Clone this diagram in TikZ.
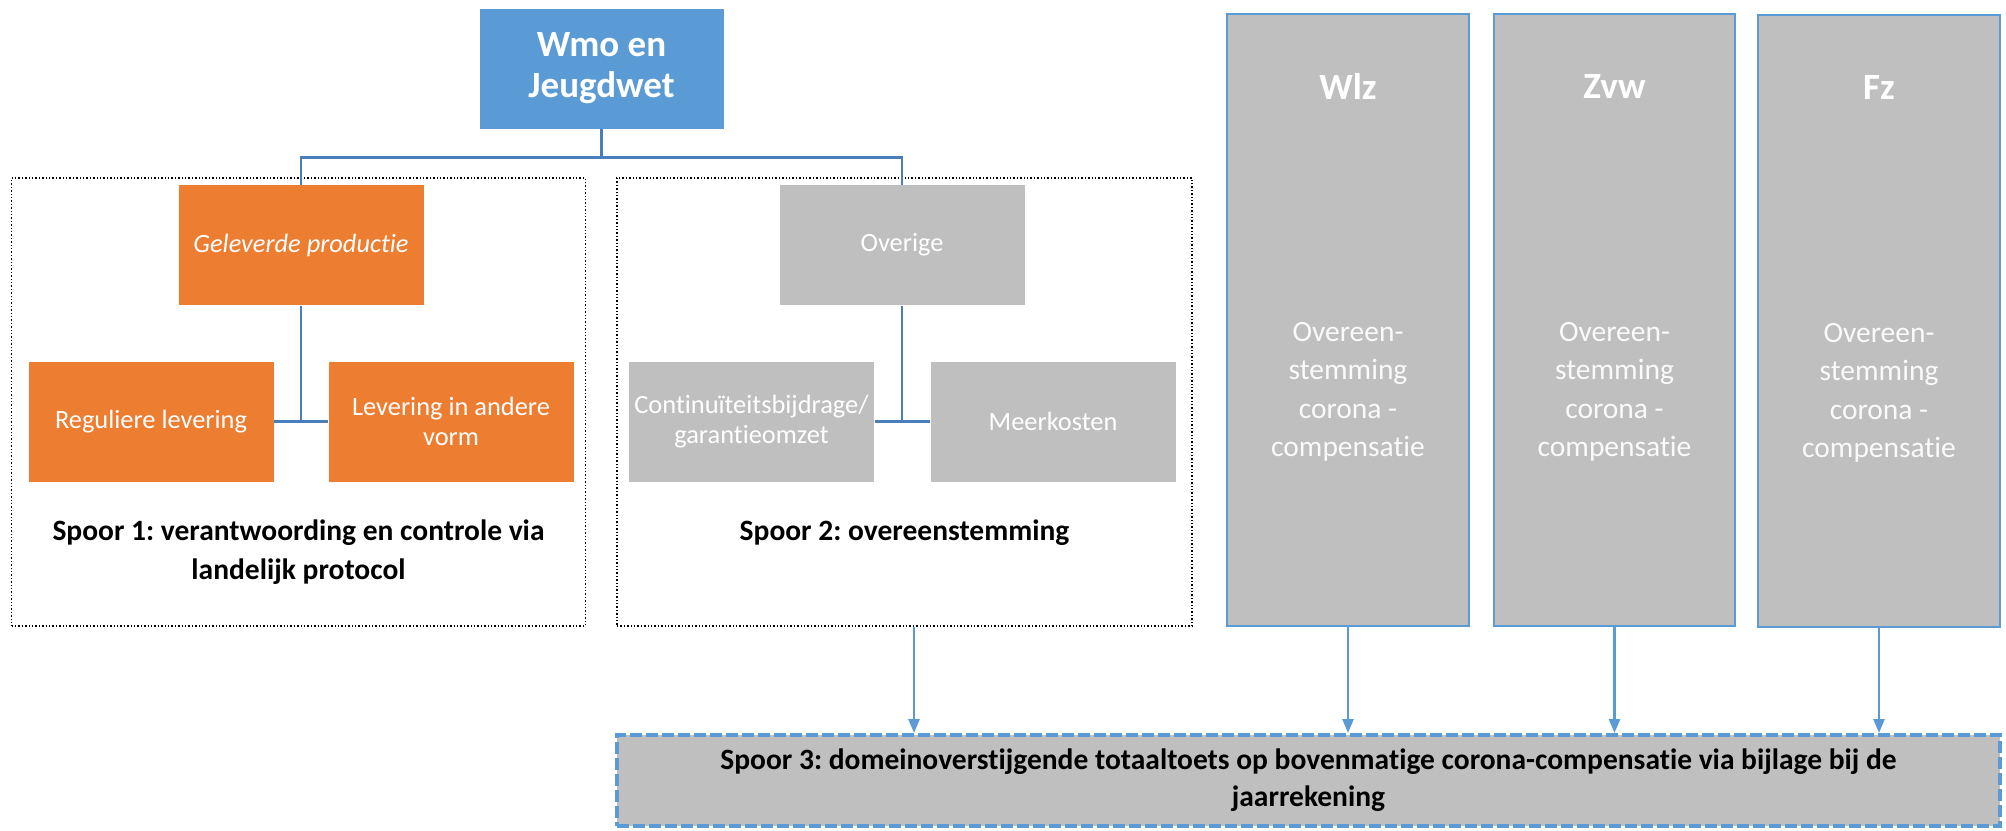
\documentclass[tikz,border=0pt]{standalone}
\usepackage{fontspec}
\setmainfont{Carlito}[RawFeature={-liga,-clig,-calt,-dlig}]
\usetikzlibrary{arrows.meta}
\frenchspacing

\definecolor{wmoblauw}{HTML}{5B9BD5}
\definecolor{lijnblauw}{HTML}{4A7EBB}
\definecolor{oranje}{HTML}{ED7D31}
\definecolor{grijs}{HTML}{BFBFBF}

\tikzset{
  blok/.style={minimum width=123pt, minimum height=60.5pt, inner sep=0pt, outer sep=0pt,
    draw=white, line width=0.4pt, text=white, align=center,
    font=\fontsize{13.2}{15}\selectfont},
  oranjeblok/.style={blok, fill=oranje},
  grijsblok/.style={blok, fill=grijs},
  spoorkader/.style={draw, densely dotted, line width=0.7pt, minimum height=224pt, inner sep=0pt},
  zuil/.style={draw=wmoblauw, line width=1.2pt, fill=grijs, minimum height=306pt, inner sep=0pt},
  kop/.style={text=white, font=\bfseries\fontsize{18.5}{20.5}\selectfont, align=center},
  zuiltekst/.style={text=white!92!grijs, font=\fontsize{14.75}{19.25}\selectfont, align=center},
  spoortekst/.style={font=\bfseries\fontsize{14.75}{19.5}\selectfont, align=center},
  boom/.style={draw=lijnblauw, line width=1.35pt},
  pijl/.style={draw=wmoblauw, line width=1.25pt, -{Triangle[length=7pt,width=5.5pt]}},
}

\begin{document}
\begin{tikzpicture}[x=0.5pt,y=-0.5pt]
\useasboundingbox (0,0) rectangle (2006,830);

% sporen 1 en 2
\node[spoorkader, minimum width=287pt] (sp1) at (298.5,402) {};
\node[spoorkader, minimum width=287.5pt] (sp2) at (904.5,402) {};

\node[kop, fill=wmoblauw, draw=white, minimum width=122.5pt, minimum height=60.5pt, inner sep=0pt] (wmo) at (601.5,68.5) {Wmo en\\Jeugdwet};

\node[oranjeblok, font=\itshape\fontsize{13.2}{15}\selectfont] (gel) at (301,245) {Geleverde productie};
\node[oranjeblok] (reg) at (151,421.5) {Reguliere levering};
\node[oranjeblok] (lev) at (451,421.5) {Levering in andere\\vorm};

\node[grijsblok] (ove) at (902,245) {Overige};
\node[grijsblok] (con) at (751.5,421.5) {Continuïteitsbijdrage/\\garantieomzet};
\node[grijsblok] (mee) at (1053,421.5) {Meerkosten};

\node[spoortekst] (sp1t) at (298.5,552) {Spoor 1: verantwoording en controle via\\landelijk protocol};
\node[spoortekst] (sp2t) at (904.5,533) {Spoor 2: overeenstemming};

\draw[boom] (wmo.south) -- ++(0,28) -| (gel.north);
\draw[boom] (wmo.south) -- ++(0,28) -| (ove.north);
\draw[boom] (gel.south) -- (gel.south |- reg.east);
\draw[boom] (reg.east) -- (lev.west);
\draw[boom] (ove.south) -- (ove.south |- con.east);
\draw[boom] (con.east) -- (mee.west);

% zuilen
\node[zuil, minimum width=121pt] (wlz) at (1348,320) {};
\node[kop] (wlzkop) at (1348,87) {Wlz};
\node[zuiltekst] (wlztekst) at (1348,392) {Overeen-\\stemming\\corona -\\compensatie};

\node[zuil, minimum width=120.5pt] (zvw) at (1614.5,320) {};
\node[kop] (zvwkop) at (1614.5,87) {Zvw};
\node[zuiltekst] (zvwtekst) at (1614.5,392) {Overeen-\\stemming\\corona -\\compensatie};

\node[zuil, minimum width=121pt] (fz) at (1879,321) {};
\node[kop] (fzkop) at (1879,88) {Fz};
\node[zuiltekst] (fztekst) at (1879,393) {Overeen-\\stemming\\corona -\\compensatie};

% spoor 3
\node[draw=wmoblauw, line width=2pt, dash pattern=on 6pt off 2pt, fill=grijs,
  minimum width=691.5pt, minimum height=45.5pt, inner sep=0pt, spoortekst,
  font=\bfseries\fontsize{14.75}{18.5}\selectfont] (sp3) at (1308.5,780.5)
  {Spoor 3: domeinoverstijgende totaaltoets op bovenmatige corona-compensatie via bijlage bij de\\jaarrekening};

\draw[pijl] ([xshift=4.75pt]sp2.south) -- ([xshift=4.75pt]sp2.south |- sp3.north);
\draw[pijl] (wlz.south) -- (wlz.south |- sp3.north);
\draw[pijl] (zvw.south) -- (zvw.south |- sp3.north);
\draw[pijl] (fz.south) -- (fz.south |- sp3.north);
\end{tikzpicture}
\end{document}
